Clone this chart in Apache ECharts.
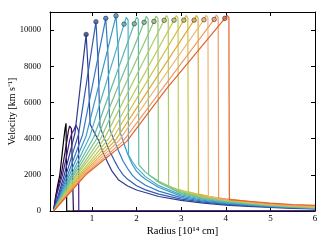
<!DOCTYPE html>
<html><head><meta charset="utf-8">
<script src="https://cdn.jsdelivr.net/npm/echarts@6/dist/echarts.min.js"></script>
<style>html,body{margin:0;padding:0;background:#fff}#c{width:332px;height:249px}</style>
</head><body><div id="c"></div>
<script>
const xTicks = [1, 2, 3, 4, 5, 6];
const yTicks = [0, 2000, 4000, 6000, 8000, 10000];

const c00 = [[0.14,0],[0.18,700],[0.23,1400],[0.28,2000],[0.33,3100],[0.37,4000],[0.40,4600],[0.42,4850],[0.43,4750],[0.435,0],[6,0]];
const c01 = [[0.14,0],[0.20,900],[0.31,2000],[0.38,3000],[0.44,3900],[0.47,4400],[0.50,4700],[0.52,4750],[0.54,4550],[0.56,4600],[0.58,4450],[0.585,0],[6,0]];
const c02 = [[0.14,0],[0.21,900],[0.34,2000],[0.43,3000],[0.50,3900],[0.55,4300],[0.60,4500],[0.64,4750],[0.66,4800],[0.68,4550],[0.70,4400],[0.705,0],[6,0]];
const c03 = [[0.14,0],[0.38,2000],[0.62,4300],[0.87,9760],[0.89,9820],[0.92,7600],[0.96,4800],[1.05,4350],[1.15,3900],[1.25,3250],[1.35,2700],[1.45,2200],[1.6,1710],[1.8,1380],[2.0,1160],[2.5,800],[3.0,590],[3.5,440],[4.0,330],[4.5,260],[5.0,200],[5.5,150],[6.0,110]];
const c04 = [[0.14,0],[0.42,2000],[0.70,4250],[1.09,10460],[1.11,10520],[1.14,8200],[1.18,4650],[1.28,4000],[1.4,3300],[1.5,2800],[1.6,2350],[1.7,2000],[1.8,1750],[2.0,1400],[2.2,1170],[2.5,930],[3.0,660],[3.5,490],[4.0,370],[4.5,290],[5.0,220],[5.5,170],[6.0,125]];
const c05 = [[0.14,0],[0.46,2000],[0.79,4200],[1.31,10650],[1.33,10720],[1.36,8600],[1.40,4500],[1.5,3900],[1.6,3300],[1.7,2750],[1.8,2350],[1.9,2000],[2.0,1750],[2.2,1420],[2.5,1100],[3.0,740],[3.5,540],[4.0,410],[4.5,320],[5.0,240],[5.5,185],[6.0,140]];
const c06 = [[0.14,0],[0.50,2000],[0.87,4150],[1.54,10790],[1.56,10850],[1.59,8900],[1.63,4350],[1.72,3700],[1.8,3150],[1.9,2600],[2.0,2200],[2.1,1950],[2.2,1750],[2.5,1300],[3.0,820],[3.5,590],[4.0,445],[4.5,345],[5.0,258],[5.5,200],[6.0,152]];
const c07 = [[0.14,0],[0.54,2000],[0.95,4100],[1.72,10330],[1.77,10700],[1.81,10550],[1.82,3100],[1.9,2750],[2.0,2400],[2.2,1900],[2.5,1400],[3.0,890],[3.5,640],[4.0,480],[4.5,370],[5.0,275],[5.5,215],[6.0,164]];
const c08 = [[0.14,0],[0.57,2000],[1.04,4080],[1.95,10350],[2.00,10720],[2.04,10570],[2.05,2550],[2.2,2150],[2.5,1580],[3.0,960],[3.5,690],[4.0,515],[4.5,395],[5.0,292],[5.5,228],[6.0,176]];
const c09 = [[0.14,0],[0.60,2000],[1.12,4050],[2.17,10430],[2.22,10760],[2.26,10600],[2.27,2000],[2.5,1640],[3.0,1020],[3.5,730],[4.0,545],[4.5,418],[5.0,308],[5.5,240],[6.0,188]];
const c10 = [[0.14,0],[0.64,2000],[1.20,4020],[2.39,10480],[2.44,10780],[2.48,10620],[2.49,1620],[2.7,1400],[3.0,1070],[3.5,770],[4.0,570],[4.5,440],[5.0,322],[5.5,252],[6.0,200]];
const c11 = [[0.14,0],[0.67,2000],[1.28,4000],[2.62,10540],[2.67,10800],[2.71,10640],[2.72,1380],[3.0,1110],[3.5,800],[4.0,590],[4.5,458],[5.0,335],[5.5,264],[6.0,212]];
const c12 = [[0.14,0],[0.71,2000],[1.37,3980],[2.84,10550],[2.89,10800],[2.93,10650],[2.94,1200],[3.2,1020],[3.5,830],[4.0,610],[4.5,475],[5.0,348],[5.5,276],[6.0,224]];
const c13 = [[0.14,0],[0.74,2000],[1.45,3950],[3.06,10550],[3.11,10810],[3.15,10660],[3.16,1060],[3.5,850],[4.0,625],[4.5,490],[5.0,360],[5.5,288],[6.0,236]];
const c14 = [[0.14,0],[0.77,2000],[1.53,3920],[3.29,10550],[3.34,10810],[3.38,10660],[3.39,930],[3.7,770],[4.0,640],[4.5,505],[5.0,372],[5.5,300],[6.0,248]];
const c15 = [[0.14,0],[0.80,2000],[1.61,3900],[3.51,10570],[3.56,10820],[3.60,10680],[3.61,810],[4.0,655],[4.5,520],[5.0,384],[5.5,312],[6.0,260]];
const c16 = [[0.14,0],[0.83,2000],[1.70,3860],[3.74,10590],[3.79,10830],[3.83,10690],[3.84,715],[4.0,665],[4.5,535],[5.0,396],[5.5,328],[6.0,275]];
const c17 = [[0.14,0],[0.86,2000],[1.78,3850],[2.66,6720],[3.98,10650],[4.03,10820],[4.07,10700],[4.08,630],[4.5,540],[5.0,430],[5.5,360],[6.0,310]];

const curves = [c00,c01,c02,c03,c04,c05,c06,c07,c08,c09,c10,c11,c12,c13,c14,c15,c16,c17];
const colors = ['#000000','#2a0845','#4b1d8f','#2c3b91','#2f5bb0','#3579c2','#3b97c6','#4bb0c0','#5fbaa6','#78c08c','#93c677','#adca68','#c5c95a','#d2bf45','#e2aa3a','#f0b46e','#f09a68','#e4602e'];

const markerX = [0.87,1.09,1.31,1.54,1.72,1.95,2.17,2.39,2.62,2.84,3.06,3.29,3.51,3.74,3.98];
const markerY = [9760,10460,10650,10790,10330,10350,10430,10480,10540,10550,10550,10550,10570,10590,10650];
const markerCurve = [3,4,5,6,7,8,9,10,11,12,13,14,15,16,17];

const FONT = 'Liberation Serif';
const chart = echarts.init(document.getElementById('c'), null, {renderer:'canvas'});

const series = curves.map((d, i) => ({
  type: 'line', data: d, showSymbol: false, symbol: 'none',
  lineStyle: {width: 1.2, color: colors[i]}, z: 2 + i * 0.01, silent: true, clip: true
}));
series.push({
  type: 'scatter',
  data: markerX.map((x, i) => ({value: [x, markerY[i]], itemStyle: {color: colors[markerCurve[i]]}})),
  symbolSize: 4.5,
  itemStyle: {borderColor: '#333', borderWidth: 0.8},
  z: 5, silent: true
});

const axisCommon = {
  axisLine: {show: true, onZero: false, lineStyle: {color: '#000', width: 1}},
  splitLine: {show: false}
};
const plain = v => String(v);

chart.setOption({
  animation: false,
  backgroundColor: '#fff',
  grid: {left: 50, right: 17, top: 12, bottom: 38, containLabel: false, outerBoundsMode: 'none'},
  xAxis: [
    Object.assign({type: 'value', min: 0.06, max: 6,
      axisTick: {show: true, inside: true, length: 4, customValues: xTicks, lineStyle: {color: '#000'}},
      axisLabel: {show: true, customValues: xTicks, formatter: plain, color: '#000', fontFamily: FONT, fontSize: 9, margin: 3},
      name: 'Radius [10¹⁴ cm]', nameLocation: 'middle', nameGap: 15, nameMoveOverlap: false,
      nameTextStyle: {color: '#000', fontFamily: FONT, fontSize: 10.5}}, axisCommon),
    Object.assign({type: 'value', position: 'top', min: 0.06, max: 6,
      axisTick: {show: true, inside: true, length: 4, customValues: [1,2,3,4,5], lineStyle: {color: '#000'}},
      axisLabel: {show: false}}, axisCommon)
  ],
  yAxis: [
    Object.assign({type: 'value', min: 0, max: 11000,
      axisTick: {show: true, inside: true, length: 4, customValues: yTicks, lineStyle: {color: '#000'}},
      axisLabel: {show: true, customValues: yTicks, formatter: plain, color: '#000', fontFamily: FONT, fontSize: 8.5, margin: 9},
      name: 'Velocity [km s⁻¹]', nameLocation: 'middle', nameGap: 33, nameMoveOverlap: false,
      nameTextStyle: {color: '#000', fontFamily: FONT, fontSize: 10}}, axisCommon),
    Object.assign({type: 'value', position: 'right', min: 0, max: 11000,
      axisTick: {show: true, inside: true, length: 4, customValues: yTicks, lineStyle: {color: '#000'}},
      axisLabel: {show: false}}, axisCommon)
  ],
  series: series
});
</script></body></html>
